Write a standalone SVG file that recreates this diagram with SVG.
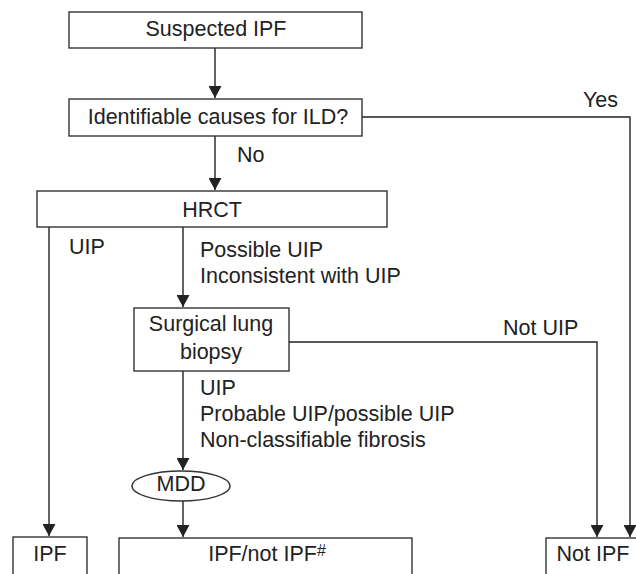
<svg xmlns="http://www.w3.org/2000/svg" width="636" height="574" viewBox="0 0 636 574">
<defs>
<style>
.box{fill:#fff;stroke:#333;stroke-width:1.4}
.ln{fill:none;stroke:#222;stroke-width:1.4}
text{font-family:"Liberation Sans",Arial,sans-serif;font-size:21.5px;fill:#222}
.c{text-anchor:middle}
</style>
<marker id="ah" markerUnits="userSpaceOnUse" markerWidth="13" markerHeight="13" refX="12" refY="6.5" orient="auto" viewBox="0 0 13 13">
<path d="M0,0 L12,6.5 L0,13 z" fill="#222"/>
</marker>
</defs>
<rect width="636" height="574" fill="#fff"/>
<g id="connectors">
<path class="ln" d="M215,48 V98" marker-end="url(#ah)"/>
<path class="ln" d="M362,117 H630 V537" marker-end="url(#ah)"/>
<path class="ln" d="M215,136 V190" marker-end="url(#ah)"/>
<path class="ln" d="M49,227 V536" marker-end="url(#ah)"/>
<path class="ln" d="M183,227 V307" marker-end="url(#ah)"/>
<path class="ln" d="M289,342 H597 V537" marker-end="url(#ah)"/>
<path class="ln" d="M183,371 V470" marker-end="url(#ah)"/>
<path class="ln" d="M183,501 V537" marker-end="url(#ah)"/>
<text x="583" y="107">Yes</text>
<text x="237" y="162">No</text>
<text x="69" y="254">UIP</text>
<text x="200" y="257">Possible UIP</text>
<text x="200" y="283">Inconsistent with UIP</text>
<text x="503" y="335">Not UIP</text>
<text x="200" y="395">UIP</text>
<text x="200" y="421">Probable UIP/possible UIP</text>
<text x="200" y="447">Non-classifiable fibrosis</text>
</g>
<g id="suspected">
<rect class="box" x="69" y="12" width="293" height="36"/>
<text class="c" x="216" y="36">Suspected IPF</text>
</g>
<g id="identifiable">
<rect class="box" x="69" y="99" width="293" height="37"/>
<text class="c" x="218" y="124">Identifiable causes for ILD?</text>
</g>
<g id="hrct">
<rect class="box" x="37" y="191" width="350" height="36"/>
<text class="c" x="212" y="217">HRCT</text>
</g>
<g id="biopsy">
<rect class="box" x="134" y="308" width="155" height="63"/>
<text class="c" x="211" y="331">Surgical lung</text>
<text class="c" x="211" y="359">biopsy</text>
</g>
<g id="mdd">
<ellipse class="box" cx="181" cy="486" rx="49" ry="15"/>
<text class="c" x="181" y="491">MDD</text>
</g>
<g id="ipf">
<rect class="box" x="13" y="537" width="74" height="50"/>
<text class="c" x="50" y="561">IPF</text>
</g>
<g id="ipf-not-ipf">
<rect class="box" x="119" y="538" width="293" height="50"/>
<text class="c" x="267" y="561">IPF/not IPF<tspan font-size="16" dy="-5">#</tspan></text>
</g>
<g id="not-ipf">
<rect class="box" x="546" y="538" width="94" height="50"/>
<text class="c" x="593" y="561">Not IPF</text>
</g>
</svg>
